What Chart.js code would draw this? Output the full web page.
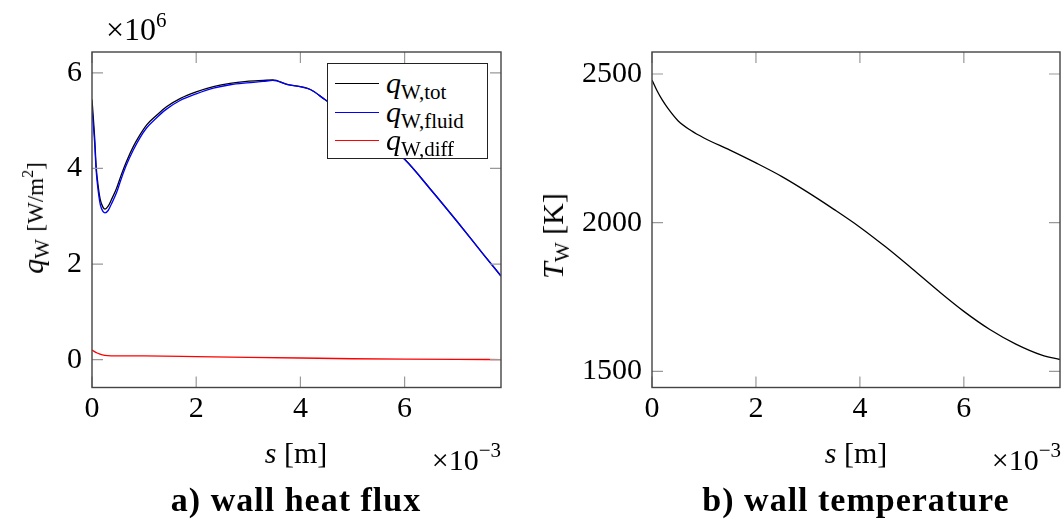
<!DOCTYPE html>
<html>
<head>
<meta charset="utf-8">
<script src="https://cdn.jsdelivr.net/npm/chart.js@4.4.1/dist/chart.umd.min.js"></script>
<style>
body { margin: 0; background: #fff; }
#page { position: relative; width: 1064px; height: 521px; overflow: hidden; font-family: "Liberation Serif", serif; color: #000; }
canvas { position: absolute; top: 0; }
.txt { position: absolute; white-space: nowrap; font-size: 30px; line-height: 1; }
.m { font-style: italic; }
sub { font-size: 21px; vertical-align: -0.3em; line-height: 0; }
sup { font-size: 21px; vertical-align: 0.6em; line-height: 0; }
.unit { font-size: 23px; }
.unit sup { font-size: 16px; }
.cap { font-weight: bold; font-size: 34px; letter-spacing: 1px; }
.ylab { transform: translate(-50%, -50%) rotate(-90deg); }
#legend { position: absolute; left: 327px; top: 63px; width: 159px; height: 94px; border: 1.3px solid #222; background: #fff; }
#legend .row { position: absolute; left: 0; width: 100%; }
#legend .line { position: absolute; left: 7px; top: -1px; width: 44px; height: 0; border-top: 1.6px solid #000; }
#legend .lab { position: absolute; left: 58px; font-size: 30px; line-height: 1; transform: translateY(-55%); white-space: nowrap; }
</style>
</head>
<body>
<div id="page">
  <canvas id="fluxChart" width="530" height="521" style="left:0"></canvas>
  <canvas id="tempChart" width="534" height="521" style="left:530px"></canvas>

  <div class="txt" style="left:106px; top:13px; font-size:32px;">&times;10<sup>6</sup></div>
  <div class="txt ylab" style="left:33px; top:218px;"><span class="m">q</span><sub>W</sub> <span class="unit">[W/m<sup>2</sup>]</span></div>
  <div class="txt" style="left:296px; top:453px; transform:translate(-50%,-50%);"><span class="m">s</span> [m]</div>
  <div class="txt" style="left:501px; top:460px; transform:translate(-100%,-50%);">&times;10<sup>&minus;3</sup></div>
  <div class="txt cap" style="left:296px; top:500px; transform:translate(-50%,-50%);">a) wall heat flux</div>

  <div class="txt ylab" style="left:553px; top:236px;"><span class="m">T</span><sub>W</sub> [K]</div>
  <div class="txt" style="left:856px; top:453px; transform:translate(-50%,-50%);"><span class="m">s</span> [m]</div>
  <div class="txt" style="left:1061px; top:460px; transform:translate(-100%,-50%);">&times;10<sup>&minus;3</sup></div>
  <div class="txt cap" style="left:856px; top:500px; transform:translate(-50%,-50%);">b) wall temperature</div>

  <div id="legend"></div>
</div>
<script>
// s in 1e-3 m, heat flux in 1e6 W/m^2
const sFlux = [0, 0.05, 0.08, 0.12, 0.16, 0.21, 0.25, 0.31, 0.37, 0.47, 0.56, 0.66, 0.79, 0.92, 1.05, 1.24, 1.43, 1.69, 2.0, 2.33, 2.65, 2.97, 3.29, 3.47, 3.74, 4.19, 4.47, 5.0, 5.5, 6.0, 6.5, 7.0, 7.5, 7.85];
const qTot = [5.44, 4.66, 4.04, 3.62, 3.34, 3.19, 3.15, 3.21, 3.34, 3.58, 3.86, 4.14, 4.45, 4.70, 4.91, 5.11, 5.29, 5.46, 5.60, 5.71, 5.78, 5.82, 5.84, 5.85, 5.76, 5.65, 5.44, 5.05, 4.65, 4.19, 3.56, 2.90, 2.22, 1.75];
const qFluid = [5.25, 4.55, 3.95, 3.52, 3.24, 3.10, 3.07, 3.12, 3.25, 3.49, 3.78, 4.07, 4.38, 4.64, 4.85, 5.06, 5.24, 5.42, 5.56, 5.68, 5.75, 5.79, 5.82, 5.84, 5.76, 5.65, 5.44, 5.05, 4.65, 4.19, 3.56, 2.90, 2.22, 1.75];
const sDiff = [0, 0.1, 0.2, 0.3, 0.5, 1.0, 2.0, 3.0, 4.0, 5.0, 6.0, 7.0, 7.85];
const qDiff = [0.20, 0.14, 0.10, 0.085, 0.08, 0.078, 0.065, 0.05, 0.035, 0.02, 0.01, 0.005, 0.003];

// wall temperature in K
const sTemp = [0, 0.1, 0.2, 0.3, 0.5, 0.75, 1.0, 1.5, 2.0, 2.5, 3.0, 3.5, 4.0, 4.5, 5.0, 5.5, 6.0, 6.5, 7.0, 7.5, 7.85];
const tWall = [2480, 2443, 2412, 2386, 2343, 2310, 2285, 2244, 2201, 2155, 2102, 2045, 1985, 1918, 1846, 1772, 1702, 1641, 1592, 1555, 1540];

const xTicks = [0, 2, 4, 6];
const fluxTicks = [0, 2, 4, 6];
const tempTicks = [1500, 2000, 2500];
const xMax = 7.85;

const legendNames = ['W,tot', 'W,fluid', 'W,diff'];
const colors = ['#000000', '#0000ff', '#ff0000'];

const pts = (xs, ys) => xs.map((x, i) => ({ x: x, y: ys[i] }));

// pgfplots style: 10% margin around the data range
function enlarged(arrays) {
    const all = [].concat(...arrays);
    const lo = Math.min(...all), hi = Math.max(...all);
    const pad = (hi - lo) * 0.1;
    return [lo - pad, hi + pad];
}

const frameTicks = {
    id: 'frameTicks',
    afterDatasetsDraw(chart) {
        const { ctx, chartArea: a, scales: { x, y } } = chart;
        ctx.save();
        ctx.strokeStyle = '#999';
        ctx.lineWidth = 1.2;
        ctx.beginPath();
        x.ticks.forEach(t => {
            const px = x.getPixelForValue(t.value);
            ctx.moveTo(px, a.bottom); ctx.lineTo(px, a.bottom - 11);
            ctx.moveTo(px, a.top); ctx.lineTo(px, a.top + 11);
        });
        y.ticks.forEach(t => {
            const py = y.getPixelForValue(t.value);
            ctx.moveTo(a.left, py); ctx.lineTo(a.left + 11, py);
            ctx.moveTo(a.right, py); ctx.lineTo(a.right - 11, py);
        });
        ctx.stroke();
        ctx.strokeStyle = '#444';
        ctx.lineWidth = 1.4;
        ctx.strokeRect(a.left, a.top, a.width, a.height);
        ctx.restore();
    }
};

const tickFont = { family: '"Liberation Serif", serif', size: 30 };

function makeOptions(yRange, yTicks, yWidth, rightPad) {
    return {
        responsive: false,
        animation: false,
        layout: { padding: { left: 0, right: rightPad, top: 52, bottom: 93.5 } },
        plugins: { legend: { display: false }, tooltip: { enabled: false } },
        elements: { point: { radius: 0 } },
        scales: {
            x: {
                type: 'linear',
                min: 0,
                max: xMax,
                grid: { display: false, drawTicks: false },
                border: { display: false },
                afterBuildTicks: s => { s.ticks = xTicks.map(v => ({ value: v })); },
                afterFit: s => { s.height = 40; },
                ticks: { font: tickFont, color: '#000', padding: 4, callback: v => String(v) }
            },
            y: {
                min: yRange[0],
                max: yRange[1],
                grid: { display: false, drawTicks: false },
                border: { display: false },
                afterBuildTicks: s => { s.ticks = yTicks.map(v => ({ value: v })); },
                afterFit: s => { s.width = yWidth; },
                ticks: { font: tickFont, color: '#000', padding: 10, callback: v => String(v) }
            }
        }
    };
}

const fluxChart = new Chart(document.getElementById('fluxChart'), {
    type: 'line',
    data: {
        datasets: [
            { label: 'q_W,tot', sub: legendNames[0], data: pts(sFlux, qTot), borderColor: colors[0], borderWidth: 1.3, cubicInterpolationMode: 'monotone', order: 2 },
            { label: 'q_W,fluid', sub: legendNames[1], data: pts(sFlux, qFluid), borderColor: colors[1], borderWidth: 1.3, cubicInterpolationMode: 'monotone', order: 1 },
            { label: 'q_W,diff', sub: legendNames[2], data: pts(sDiff, qDiff), borderColor: colors[2], borderWidth: 1.3, cubicInterpolationMode: 'monotone', order: 0 }
        ]
    },
    options: makeOptions(enlarged([qTot, qFluid, qDiff]), fluxTicks, 92, 29),
    plugins: [frameTicks]
});

new Chart(document.getElementById('tempChart'), {
    type: 'line',
    data: {
        datasets: [
            { label: 'T_W', data: pts(sTemp, tWall), borderColor: '#000', borderWidth: 1.3, cubicInterpolationMode: 'monotone' }
        ]
    },
    options: makeOptions(enlarged([tWall]), tempTicks, 122, 4),
    plugins: [frameTicks]
});

// legend box with subscripts, built from the datasets
const legend = document.getElementById('legend');
const rowY = [20, 49, 77];
fluxChart.data.datasets.forEach((ds, i) => {
    const row = document.createElement('div');
    row.className = 'row';
    row.style.top = rowY[i] + 'px';
    row.innerHTML = '<div class="line" style="border-top-color:' + colors[i] + '"></div>' +
        '<div class="lab"><span class="m">q</span><sub>' + ds.sub + '</sub></div>';
    legend.appendChild(row);
});
</script>
</body>
</html>
